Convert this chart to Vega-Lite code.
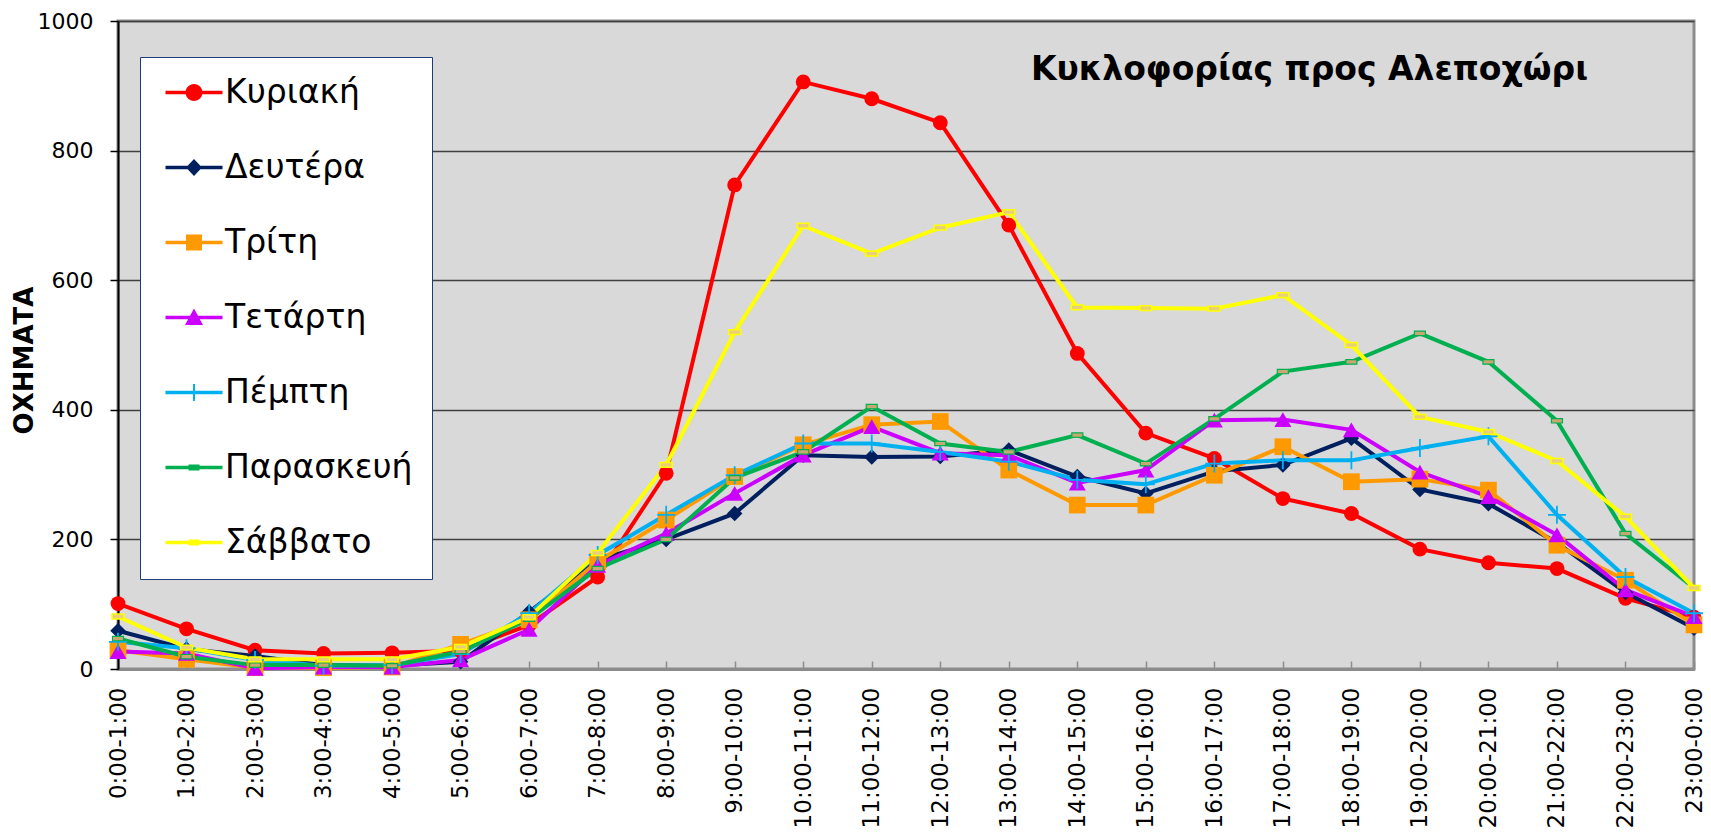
{
  "$schema": "https://vega.github.io/schema/vega-lite/v6.json",
  "width": 1576,
  "height": 648,
  "autosize": {"type": "none"},
  "padding": {"left": 118, "top": 21, "right": 17, "bottom": 164},
  "background": "white",
  "config": {
    "font": "DejaVu Sans",
    "view": {"fill": "#D9D9D9", "stroke": "#8C8C8C", "strokeWidth": 3},
    "legend": {
      "fillColor": "white",
      "strokeColor": "#1F3A7A",
      "padding": 19,
      "labelFont": "DejaVu Sans",
      "labelFontSize": 33,
      "labelColor": "black",
      "labelLimit": 400,
      "symbolSize": 400,
      "symbolStrokeWidth": 0,
      "symbolOpacity": 1,
      "labelOffset": 33,
      "rowPadding": 41
    }
  },
  "title": {
    "text": "Κυκλοφορίας προς Αλεποχώρι",
    "font": "DejaVu Sans",
    "fontSize": 33,
    "fontWeight": "bold",
    "color": "black",
    "orient": "top",
    "frame": "group",
    "anchor": "end",
    "baseline": "alphabetic",
    "offset": 0,
    "dx": -106,
    "dy": 103
  },
  "data": {"values": [
    {"h":"0:00-1:00","d":"Κυριακή","v":101},{"h":"1:00-2:00","d":"Κυριακή","v":62},{"h":"2:00-3:00","d":"Κυριακή","v":29},{"h":"3:00-4:00","d":"Κυριακή","v":24},{"h":"4:00-5:00","d":"Κυριακή","v":25},{"h":"5:00-6:00","d":"Κυριακή","v":28},{"h":"6:00-7:00","d":"Κυριακή","v":68},{"h":"7:00-8:00","d":"Κυριακή","v":142},{"h":"8:00-9:00","d":"Κυριακή","v":302},{"h":"9:00-10:00","d":"Κυριακή","v":747},{"h":"10:00-11:00","d":"Κυριακή","v":906},{"h":"11:00-12:00","d":"Κυριακή","v":880},{"h":"12:00-13:00","d":"Κυριακή","v":843},{"h":"13:00-14:00","d":"Κυριακή","v":685},{"h":"14:00-15:00","d":"Κυριακή","v":487},{"h":"15:00-16:00","d":"Κυριακή","v":364},{"h":"16:00-17:00","d":"Κυριακή","v":325},{"h":"17:00-18:00","d":"Κυριακή","v":263},{"h":"18:00-19:00","d":"Κυριακή","v":240},{"h":"19:00-20:00","d":"Κυριακή","v":185},{"h":"20:00-21:00","d":"Κυριακή","v":164},{"h":"21:00-22:00","d":"Κυριακή","v":155},{"h":"22:00-23:00","d":"Κυριακή","v":109},{"h":"23:00-0:00","d":"Κυριακή","v":80},
    {"h":"0:00-1:00","d":"Δευτέρα","v":59},{"h":"1:00-2:00","d":"Δευτέρα","v":31},{"h":"2:00-3:00","d":"Δευτέρα","v":20},{"h":"3:00-4:00","d":"Δευτέρα","v":6},{"h":"4:00-5:00","d":"Δευτέρα","v":5},{"h":"5:00-6:00","d":"Δευτέρα","v":11},{"h":"6:00-7:00","d":"Δευτέρα","v":88},{"h":"7:00-8:00","d":"Δευτέρα","v":168},{"h":"8:00-9:00","d":"Δευτέρα","v":200},{"h":"9:00-10:00","d":"Δευτέρα","v":240},{"h":"10:00-11:00","d":"Δευτέρα","v":330},{"h":"11:00-12:00","d":"Δευτέρα","v":327},{"h":"12:00-13:00","d":"Δευτέρα","v":328},{"h":"13:00-14:00","d":"Δευτέρα","v":338},{"h":"14:00-15:00","d":"Δευτέρα","v":297},{"h":"15:00-16:00","d":"Δευτέρα","v":271},{"h":"16:00-17:00","d":"Δευτέρα","v":305},{"h":"17:00-18:00","d":"Δευτέρα","v":315},{"h":"18:00-19:00","d":"Δευτέρα","v":356},{"h":"19:00-20:00","d":"Δευτέρα","v":277},{"h":"20:00-21:00","d":"Δευτέρα","v":255},{"h":"21:00-22:00","d":"Δευτέρα","v":195},{"h":"22:00-23:00","d":"Δευτέρα","v":118},{"h":"23:00-0:00","d":"Δευτέρα","v":63},
    {"h":"0:00-1:00","d":"Τρίτη","v":29},{"h":"1:00-2:00","d":"Τρίτη","v":15},{"h":"2:00-3:00","d":"Τρίτη","v":2},{"h":"3:00-4:00","d":"Τρίτη","v":2},{"h":"4:00-5:00","d":"Τρίτη","v":3},{"h":"5:00-6:00","d":"Τρίτη","v":38},{"h":"6:00-7:00","d":"Τρίτη","v":76},{"h":"7:00-8:00","d":"Τρίτη","v":166},{"h":"8:00-9:00","d":"Τρίτη","v":230},{"h":"9:00-10:00","d":"Τρίτη","v":297},{"h":"10:00-11:00","d":"Τρίτη","v":346},{"h":"11:00-12:00","d":"Τρίτη","v":377},{"h":"12:00-13:00","d":"Τρίτη","v":382},{"h":"13:00-14:00","d":"Τρίτη","v":307},{"h":"14:00-15:00","d":"Τρίτη","v":253},{"h":"15:00-16:00","d":"Τρίτη","v":253},{"h":"16:00-17:00","d":"Τρίτη","v":299},{"h":"17:00-18:00","d":"Τρίτη","v":343},{"h":"18:00-19:00","d":"Τρίτη","v":289},{"h":"19:00-20:00","d":"Τρίτη","v":293},{"h":"20:00-21:00","d":"Τρίτη","v":276},{"h":"21:00-22:00","d":"Τρίτη","v":191},{"h":"22:00-23:00","d":"Τρίτη","v":137},{"h":"23:00-0:00","d":"Τρίτη","v":68},
    {"h":"0:00-1:00","d":"Τετάρτη","v":27},{"h":"1:00-2:00","d":"Τετάρτη","v":24},{"h":"2:00-3:00","d":"Τετάρτη","v":1},{"h":"3:00-4:00","d":"Τετάρτη","v":3},{"h":"4:00-5:00","d":"Τετάρτη","v":3},{"h":"5:00-6:00","d":"Τετάρτη","v":14},{"h":"6:00-7:00","d":"Τετάρτη","v":61},{"h":"7:00-8:00","d":"Τετάρτη","v":160},{"h":"8:00-9:00","d":"Τετάρτη","v":209},{"h":"9:00-10:00","d":"Τετάρτη","v":271},{"h":"10:00-11:00","d":"Τετάρτη","v":330},{"h":"11:00-12:00","d":"Τετάρτη","v":374},{"h":"12:00-13:00","d":"Τετάρτη","v":333},{"h":"13:00-14:00","d":"Τετάρτη","v":330},{"h":"14:00-15:00","d":"Τετάρτη","v":287},{"h":"15:00-16:00","d":"Τετάρτη","v":307},{"h":"16:00-17:00","d":"Τετάρτη","v":384},{"h":"17:00-18:00","d":"Τετάρτη","v":385},{"h":"18:00-19:00","d":"Τετάρτη","v":369},{"h":"19:00-20:00","d":"Τετάρτη","v":304},{"h":"20:00-21:00","d":"Τετάρτη","v":266},{"h":"21:00-22:00","d":"Τετάρτη","v":207},{"h":"22:00-23:00","d":"Τετάρτη","v":122},{"h":"23:00-0:00","d":"Τετάρτη","v":81},
    {"h":"0:00-1:00","d":"Πέμπτη","v":42},{"h":"1:00-2:00","d":"Πέμπτη","v":32},{"h":"2:00-3:00","d":"Πέμπτη","v":14},{"h":"3:00-4:00","d":"Πέμπτη","v":5},{"h":"4:00-5:00","d":"Πέμπτη","v":6},{"h":"5:00-6:00","d":"Πέμπτη","v":23},{"h":"6:00-7:00","d":"Πέμπτη","v":86},{"h":"7:00-8:00","d":"Πέμπτη","v":176},{"h":"8:00-9:00","d":"Πέμπτη","v":238},{"h":"9:00-10:00","d":"Πέμπτη","v":299},{"h":"10:00-11:00","d":"Πέμπτη","v":348},{"h":"11:00-12:00","d":"Πέμπτη","v":348},{"h":"12:00-13:00","d":"Πέμπτη","v":335},{"h":"13:00-14:00","d":"Πέμπτη","v":320},{"h":"14:00-15:00","d":"Πέμπτη","v":292},{"h":"15:00-16:00","d":"Πέμπτη","v":285},{"h":"16:00-17:00","d":"Πέμπτη","v":317},{"h":"17:00-18:00","d":"Πέμπτη","v":322},{"h":"18:00-19:00","d":"Πέμπτη","v":322},{"h":"19:00-20:00","d":"Πέμπτη","v":341},{"h":"20:00-21:00","d":"Πέμπτη","v":359},{"h":"21:00-22:00","d":"Πέμπτη","v":238},{"h":"22:00-23:00","d":"Πέμπτη","v":142},{"h":"23:00-0:00","d":"Πέμπτη","v":86},
    {"h":"0:00-1:00","d":"Παρασκευή","v":47},{"h":"1:00-2:00","d":"Παρασκευή","v":19},{"h":"2:00-3:00","d":"Παρασκευή","v":6},{"h":"3:00-4:00","d":"Παρασκευή","v":6},{"h":"4:00-5:00","d":"Παρασκευή","v":5},{"h":"5:00-6:00","d":"Παρασκευή","v":27},{"h":"6:00-7:00","d":"Παρασκευή","v":77},{"h":"7:00-8:00","d":"Παρασκευή","v":155},{"h":"8:00-9:00","d":"Παρασκευή","v":200},{"h":"9:00-10:00","d":"Παρασκευή","v":295},{"h":"10:00-11:00","d":"Παρασκευή","v":335},{"h":"11:00-12:00","d":"Παρασκευή","v":405},{"h":"12:00-13:00","d":"Παρασκευή","v":348},{"h":"13:00-14:00","d":"Παρασκευή","v":335},{"h":"14:00-15:00","d":"Παρασκευή","v":361},{"h":"15:00-16:00","d":"Παρασκευή","v":317},{"h":"16:00-17:00","d":"Παρασκευή","v":386},{"h":"17:00-18:00","d":"Παρασκευή","v":459},{"h":"18:00-19:00","d":"Παρασκευή","v":474},{"h":"19:00-20:00","d":"Παρασκευή","v":518},{"h":"20:00-21:00","d":"Παρασκευή","v":474},{"h":"21:00-22:00","d":"Παρασκευή","v":383},{"h":"22:00-23:00","d":"Παρασκευή","v":209},{"h":"23:00-0:00","d":"Παρασκευή","v":125},
    {"h":"0:00-1:00","d":"Σάββατο","v":81},{"h":"1:00-2:00","d":"Σάββατο","v":33},{"h":"2:00-3:00","d":"Σάββατο","v":15},{"h":"3:00-4:00","d":"Σάββατο","v":15},{"h":"4:00-5:00","d":"Σάββατο","v":15},{"h":"5:00-6:00","d":"Σάββατο","v":34},{"h":"6:00-7:00","d":"Σάββατο","v":80},{"h":"7:00-8:00","d":"Σάββατο","v":179},{"h":"8:00-9:00","d":"Σάββατο","v":315},{"h":"9:00-10:00","d":"Σάββατο","v":520},{"h":"10:00-11:00","d":"Σάββατο","v":684},{"h":"11:00-12:00","d":"Σάββατο","v":641},{"h":"12:00-13:00","d":"Σάββατο","v":681},{"h":"13:00-14:00","d":"Σάββατο","v":705},{"h":"14:00-15:00","d":"Σάββατο","v":558},{"h":"15:00-16:00","d":"Σάββατο","v":557},{"h":"16:00-17:00","d":"Σάββατο","v":556},{"h":"17:00-18:00","d":"Σάββατο","v":577},{"h":"18:00-19:00","d":"Σάββατο","v":500},{"h":"19:00-20:00","d":"Σάββατο","v":389},{"h":"20:00-21:00","d":"Σάββατο","v":366},{"h":"21:00-22:00","d":"Σάββατο","v":321},{"h":"22:00-23:00","d":"Σάββατο","v":235},{"h":"23:00-0:00","d":"Σάββατο","v":125}
  ]},
  "encoding": {
    "x": {
      "field": "h", "type": "ordinal", "sort": null,
      "scale": {"type": "point", "padding": 0},
      "axis": {
        "title": null, "labelAngle": -90, "labelFontSize": 23, "labelColor": "black",
        "labelOverlap": false, "labelFlush": false,
        "tickSize": -8, "tickColor": "#8C8C8C", "tickWidth": 1.5,
        "domainColor": "#8C8C8C", "domainWidth": 3, "labelPadding": 26, "grid": false
      }
    },
    "y": {
      "field": "v", "type": "quantitative",
      "scale": {"domain": [0, 1000], "nice": false},
      "axis": {
        "title": "ΟΧΗΜΑΤΑ", "titleFontSize": 26, "titleFontWeight": "bold", "titleColor": "black",
        "titleX": -94, "titleY": 339, "titleAngle": -90, "titleBaseline": "middle", "titleAlign": "center",
        "values": [0, 200, 400, 600, 800, 1000], "format": "d",
        "labelFontSize": 22, "labelColor": "black", "labelPadding": 17,
        "tickSize": 8, "tickColor": "black", "tickWidth": 1.5,
        "domainColor": "black", "domainWidth": 2,
        "grid": true, "gridColor": "#404040", "gridWidth": 1.5
      }
    }
  },
  "layer": [
    {
      "mark": {"type": "line", "strokeWidth": 4},
      "encoding": {
        "stroke": {
          "field": "d", "type": "nominal", "legend": null,
          "scale": {
            "domain": ["Σάββατο", "Παρασκευή", "Πέμπτη", "Τετάρτη", "Τρίτη", "Δευτέρα", "Κυριακή"],
            "range": ["#FFFF00", "#00B050", "#00B0F0", "#CC00FF", "#FF9900", "#001F5F", "#FF0000"]
          }
        }
      }
    },
    {
      "transform": [{"filter": {"field": "d", "equal": "Κυριακή"}}],
      "mark": {"type": "point", "shape": "circle", "size": 220, "filled": true, "color": "#FF0000", "opacity": 1}
    },
    {
      "transform": [{"filter": {"field": "d", "equal": "Δευτέρα"}}],
      "mark": {"type": "point", "shape": "diamond", "size": 240, "filled": true, "color": "#001F5F", "opacity": 1}
    },
    {
      "transform": [{"filter": {"field": "d", "equal": "Τρίτη"}}],
      "mark": {"type": "point", "shape": "square", "size": 280, "filled": true, "color": "#FF9900", "opacity": 1}
    },
    {
      "transform": [{"filter": {"field": "d", "equal": "Τετάρτη"}}],
      "mark": {"type": "point", "shape": "triangle-up", "size": 290, "filled": true, "color": "#CC00FF", "opacity": 1}
    },
    {
      "transform": [{"filter": {"field": "d", "equal": "Πέμπτη"}}],
      "mark": {"type": "point", "shape": "M-1,-0.1H1V0.1H-1Z M-0.1,-1H0.1V1H-0.1Z", "size": 324, "filled": true, "color": "#00B0F0", "opacity": 1}
    },
    {
      "transform": [{"filter": {"field": "d", "equal": "Παρασκευή"}}],
      "mark": {"type": "point", "shape": "M-1,-0.4H1V0.4H-1Z", "size": 121, "fill": "#C8A870", "stroke": "#00B050", "strokeWidth": 1.2, "opacity": 1}
    },
    {
      "transform": [{"filter": {"field": "d", "equal": "Σάββατο"}}],
      "mark": {"type": "point", "shape": "M-1,-0.4H1V0.4H-1Z", "size": 144, "fill": "#E8D07A", "stroke": "#FFFF00", "strokeWidth": 1.5, "opacity": 1}
    },
    {
      "mark": {"type": "point", "filled": true, "opacity": 0},
      "encoding": {
        "color": {
          "field": "d", "type": "nominal",
          "scale": {
            "domain": ["Κυριακή", "Δευτέρα", "Τρίτη", "Τετάρτη", "Πέμπτη", "Παρασκευή", "Σάββατο"],
            "range": ["#FF0000", "#001F5F", "#FF9900", "#CC00FF", "#00B0F0", "#00B050", "#FFFF00"]
          },
          "legend": {"title": null, "orient": "none", "legendX": 22, "legendY": 36, "symbolOpacity": 1,
            "encode": {"symbols": {"update": {"opacity": {"value": 1}}}}}
        },
        "shape": {
          "field": "d", "type": "nominal",
          "scale": {
            "domain": ["Κυριακή", "Δευτέρα", "Τρίτη", "Τετάρτη", "Πέμπτη", "Παρασκευή", "Σάββατο"],
            "range": [
              "M-1,-0.18H4.7V0.18H-1Z M2.7,0A0.85,0.85 0 1,1 1,0A0.85,0.85 0 1,1 2.7,0Z",
              "M-1,-0.18H4.7V0.18H-1Z M1.85,-0.85L2.65,0L1.85,0.85L1.05,0Z",
              "M-1,-0.18H4.7V0.18H-1Z M1.05,-0.8H2.65V0.8H1.05Z",
              "M-1,-0.18H4.7V0.18H-1Z M1.85,-0.9L2.75,0.75H0.95Z",
              "M-1,-0.18H4.7V0.18H-1Z M1.75,-0.85H1.95V0.85H1.75Z",
              "M-1,-0.18H4.7V0.18H-1Z M1.3,-0.3H2.4V0.3H1.3Z",
              "M-1,-0.18H4.7V0.18H-1Z M1.3,-0.3H2.4V0.3H1.3Z"
            ]
          },
          "legend": {"title": null, "orient": "none", "legendX": 22, "legendY": 36, "symbolOpacity": 1,
            "encode": {"symbols": {"update": {"opacity": {"value": 1}}}}}
        }
      }
    }
  ]
}
